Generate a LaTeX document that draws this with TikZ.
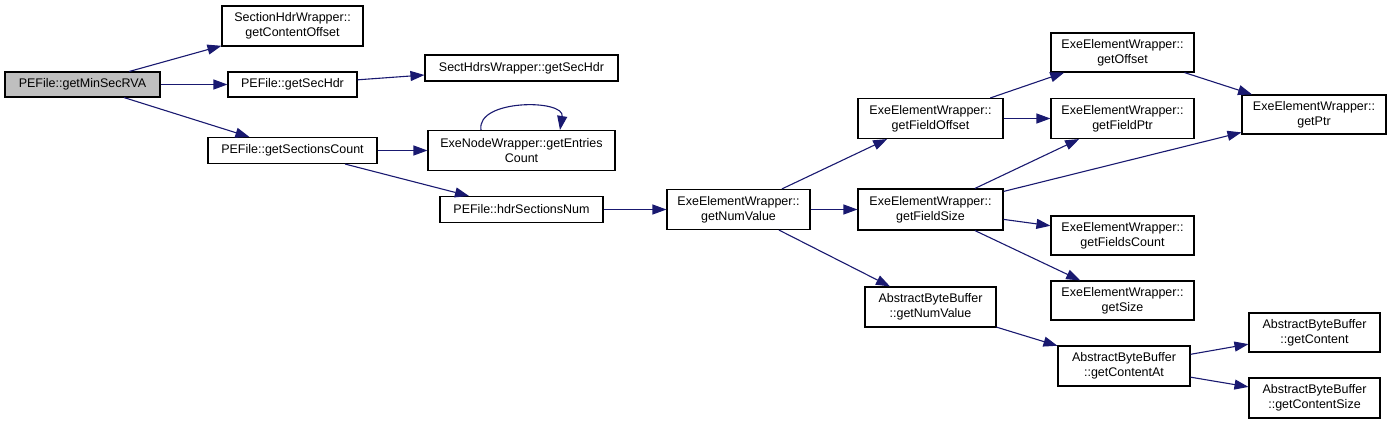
\documentclass[tikz,border=0pt]{standalone}
\usepackage{fontspec}
\setmainfont{Liberation Sans}
\usepackage{tikz}
\usetikzlibrary{arrows.meta}
\definecolor{callblue}{HTML}{191970}
\definecolor{rootgray}{HTML}{BFBFBF}

\begin{document}
\begin{tikzpicture}[x=1pt,y=-1pt,
    fn/.style={draw=black,line width=1.1pt,fill=white,align=center,inner sep=0pt,
      font=\fontsize{12.5}{15}\selectfont},
    call/.style={callblue,line width=1.1pt,-{Triangle[length=14pt,width=10pt]}}]
    \useasboundingbox (0,0) rectangle (1392,424);

    % Boxes
    \node[fn,fill=rootgray,minimum width=155pt,minimum height=25pt] (minsec) at (82.5,84.5) {PEFile::getMinSecRVA};
    \node[fn,minimum width=141pt,minimum height=40pt] (contentoff) at (292.5,26) {SectionHdrWrapper::\\getContentOffset};
    \node[fn,minimum width=129pt,minimum height=25pt] (pesechdr) at (292.5,84.5) {PEFile::getSecHdr};
    \node[fn,minimum width=169pt,minimum height=26pt] (seccount) at (292.5,150.5) {PEFile::getSectionsCount};
    \node[fn,minimum width=193pt,minimum height=26pt] (secthdrs) at (521.5,68) {SectHdrsWrapper::getSecHdr};
    \node[fn,minimum width=187pt,minimum height=40pt] (entries) at (521.5,150.5) {ExeNodeWrapper::getEntries\\Count};
    \node[fn,minimum width=163pt,minimum height=26pt] (hdrnum) at (521.5,209.5) {PEFile::hdrSectionsNum};
    \node[fn,minimum width=143pt,minimum height=40pt] (numval) at (738.5,209.5) {ExeElementWrapper::\\getNumValue};
    \node[fn,minimum width=145pt,minimum height=40pt] (fieldoff) at (930.5,118.5) {ExeElementWrapper::\\getFieldOffset};
    \node[fn,minimum width=145pt,minimum height=41pt] (fieldsize) at (930.5,209.5) {ExeElementWrapper::\\getFieldSize};
    \node[fn,minimum width=131pt,minimum height=40pt] (abbnum) at (930.5,307) {AbstractByteBuffer\\::getNumValue};
    \node[fn,minimum width=143pt,minimum height=39pt] (getoffset) at (1122.5,52.5) {ExeElementWrapper::\\getOffset};
    \node[fn,minimum width=143pt,minimum height=40pt] (fieldptr) at (1122.5,118.5) {ExeElementWrapper::\\getFieldPtr};
    \node[fn,minimum width=143pt,minimum height=39pt] (fieldscount) at (1122.5,235.5) {ExeElementWrapper::\\getFieldsCount};
    \node[fn,minimum width=143pt,minimum height=39pt] (getsize) at (1122.5,300.5) {ExeElementWrapper::\\getSize};
    \node[fn,minimum width=132pt,minimum height=40pt] (contentat) at (1124,366) {AbstractByteBuffer\\::getContentAt};
    \node[fn,minimum width=144pt,minimum height=39pt] (getptr) at (1314,114.5) {ExeElementWrapper::\\getPtr};
    \node[fn,minimum width=131pt,minimum height=39pt] (getcontent) at (1314.5,332.5) {AbstractByteBuffer\\::getContent};
    \node[fn,minimum width=131pt,minimum height=40pt] (contentsize) at (1314.5,398) {AbstractByteBuffer\\::getContentSize};

    % Calls
    \draw[call] (minsec) -- (contentoff);
    \draw[call] (minsec) -- (pesechdr);
    \draw[call] (minsec) -- (seccount);
    \draw[call] (pesechdr) -- (secthdrs);
    \draw[call] (seccount) -- (entries);
    \draw[call] (seccount) -- (hdrnum);
    \draw[call] ([xshift=-40.5pt]entries.north) .. controls +(-5,-31) and +(5,-31) .. ([xshift=38.5pt]entries.north);
    \draw[call] (hdrnum) -- (numval);
    \draw[call] (numval) -- (fieldoff);
    \draw[call] (numval) -- (fieldsize);
    \draw[call] (numval) -- (abbnum);
    \draw[call] (fieldoff) -- (getoffset);
    \draw[call] (fieldoff) -- (fieldptr);
    \draw[call] (fieldsize) -- (fieldptr);
    \draw[call] (fieldsize) -- (getptr);
    \draw[call] (fieldsize) -- (fieldscount);
    \draw[call] (fieldsize) -- (getsize);
    \draw[call] (getoffset) -- (getptr);
    \draw[call] (abbnum) -- (contentat);
    \draw[call] (contentat) -- (getcontent);
    \draw[call] (contentat) -- (contentsize);
\end{tikzpicture}
\end{document}
